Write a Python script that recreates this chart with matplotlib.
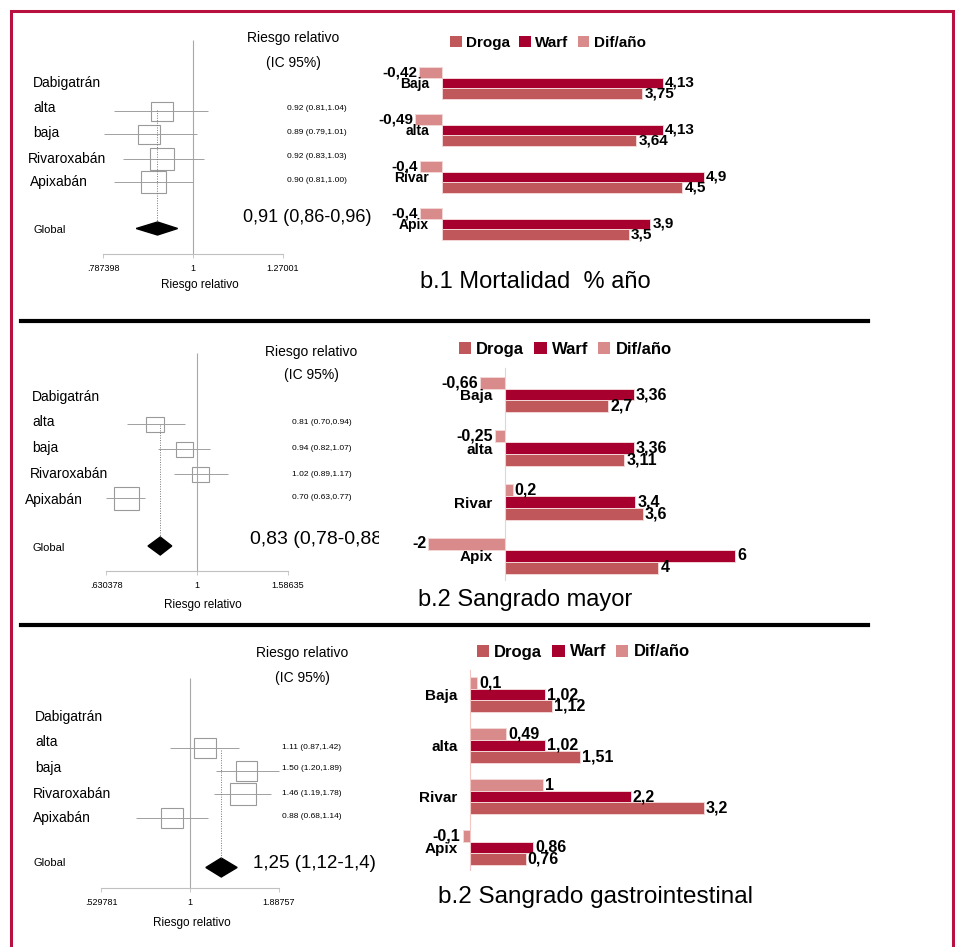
import numpy as np
import matplotlib
matplotlib.use("Agg")
import matplotlib.pyplot as plt
from matplotlib.patches import Rectangle, Polygon, Patch
from matplotlib.lines import Line2D
from matplotlib.ticker import NullLocator
from matplotlib.transforms import Bbox, TransformedBbox

plt.rcParams['font.family'] = ['Liberation Sans', 'DejaVu Sans']

W, H = 955, 947

# ---- forest plot data (riesgo relativo, IC 95%)
rr_names = ['alta', 'baja', 'Rivaroxabán', 'Apixabán']

mort_rr = [0.92, 0.89, 0.92, 0.90]
mort_lo = [0.81, 0.79, 0.83, 0.81]
mort_hi = [1.04, 1.01, 1.03, 1.00]
mort_global = [0.91, 0.86, 0.96]
mort_ticks = [0.787398, 1, 1.27001]
mort_ticklabels = ['.787398', '1', '1.27001']
mort_big = '0,91 (0,86-0,96)'

mayor_rr = [0.81, 0.94, 1.02, 0.70]
mayor_lo = [0.70, 0.82, 0.89, 0.63]
mayor_hi = [0.94, 1.07, 1.17, 0.77]
mayor_global = [0.83, 0.78, 0.88]
mayor_ticks = [0.630378, 1, 1.58635]
mayor_ticklabels = ['.630378', '1', '1.58635']
mayor_big = '0,83 (0,78-0,88)'

gi_rr = [1.11, 1.50, 1.46, 0.88]
gi_lo = [0.87, 1.20, 1.19, 0.68]
gi_hi = [1.42, 1.89, 1.78, 1.14]
gi_global = [1.25, 1.12, 1.4]
gi_ticks = [0.529781, 1, 1.88757]
gi_ticklabels = ['.529781', '1', '1.88757']
gi_big = '1,25 (1,12-1,4)'

# ---- bar data (% año)
bar_cats = ['Baja', 'alta', 'Rivar', 'Apix']
mort_droga = [3.75, 3.64, 4.5, 3.5]
mort_warf = [4.13, 4.13, 4.9, 3.9]
mort_dif = [-0.42, -0.49, -0.4, -0.4]

mayor_droga = [2.7, 3.11, 3.6, 4]
mayor_warf = [3.36, 3.36, 3.4, 6]
mayor_dif = [-0.66, -0.25, 0.2, -2]

gi_droga = [1.12, 1.51, 3.2, 0.76]
gi_warf = [1.02, 1.02, 2.2, 0.86]
gi_dif = [0.1, 0.49, 1, -0.1]

c_droga = '#C0575B'
c_warf = '#A8002E'
c_dif = '#D98A8A'
c_frame = '#B8103F'

fig = plt.figure(figsize=(W / 100, H / 100), dpi=100)


def rect(x0, y0, x1, y1):
    return [x0 / W, 1 - y1 / H, (x1 - x0) / W, (y1 - y0) / H]


def ftext(x, y, s, **kw):
    return fig.text(x / W, 1 - y / H, s, **kw)


def forest(lay, rr, lo, hi, glob, ticks, ticklabels, big, boxes):
    p_one, p_hi = lay['tick_px'][1], lay['tick_px'][2]
    k = (p_hi - p_one) / np.log(ticks[2])
    x0, x1 = 20, 382
    ax = fig.add_axes(rect(x0, lay['top'], x1, lay['bottom']))
    ax.set_xscale('log')
    ax.set_xlim(np.exp((x0 - p_one) / k), np.exp((x1 - p_one) / k))
    ax.set_ylim(lay['bottom'], lay['top'])
    ax.patch.set_visible(False)

    ax.vlines(1, lay['vtop'], lay['axis'], color='#a8a8a8', lw=0.8)
    ax.hlines(lay['rows'], lo, hi, color='#a0a0a0', lw=0.7)
    for e, y, (bw, bh) in zip(rr, lay['rows'], boxes):
        hw = bw / 2 / k
        ax.add_patch(Rectangle((e * np.exp(-hw), y - bh / 2),
                               e * np.exp(hw) - e * np.exp(-hw), bh,
                               fill=False, ec='#9a9a9a', lw=0.8))
    g, glo, ghi = glob
    gy, dh = lay['glob_y'], lay['dh']
    ax.add_patch(Polygon([[glo, gy], [g, gy - dh], [ghi, gy], [g, gy + dh]],
                         closed=True, color='black'))
    ax.vlines(g, lay['dot_top'], gy - dh, color='#777777', lw=0.7,
              linestyles=(0, (1, 1.5)))

    for s in ['top', 'right', 'left']:
        ax.spines[s].set_visible(False)
    ax.spines['bottom'].set_position(('data', lay['axis']))
    ax.spines['bottom'].set_bounds(ticks[0], ticks[2])
    ax.spines['bottom'].set_color('#c0c0c0')
    ax.spines['bottom'].set_linewidth(0.8)
    ax.set_xticks(ticks)
    ax.set_xticklabels(ticklabels, fontsize=6.5)
    ax.xaxis.set_minor_locator(NullLocator())
    ax.tick_params(axis='x', length=3, width=0.6, color='#c0c0c0', pad=4)
    ax.set_yticks([])

    # texts
    ftext(lay['dab'][0], lay['dab'][1], 'Dabigatrán', fontsize=10, va='center')
    for name, x, y in zip(rr_names, lay['lab_x'], lay['lab_y']):
        ftext(x, y, name, fontsize=10, va='center')
    ftext(lay['glob_lab'][0], lay['glob_lab'][1], 'Global', fontsize=8, va='center')
    for e, l, h, y in zip(rr, lo, hi, lay['val_y']):
        ftext(lay['val_x'], y, f"{e:.2f} ({l:.2f},{h:.2f})", fontsize=6, va='center')
    hx, hy1, hy2 = lay['head']
    ftext(hx, hy1, 'Riesgo relativo', fontsize=10, ha='center', va='center')
    ftext(hx, hy2, '(IC 95%)', fontsize=10, ha='center', va='center')
    t = ftext(lay['big'][0], lay['big'][1], big, fontsize=lay['big_fs'], va='center')
    t.set_clip_box(TransformedBbox(Bbox([[0, 0], [379 / W, 1]]), fig.transFigure))
    t.set_clip_on(True)
    ftext(lay['xlab'][0], lay['xlab'][1], 'Riesgo relativo', fontsize=8.5,
          ha='center', va='center')
    return ax


def fmt(v):
    return f"{v:g}".replace('.', ',')


def bars(lay, droga, warf, dif, tick_fs, lab_fs, leg_fs):
    x0, y0, x1, y1 = lay['rect']
    zero, ppu, c0, sp = lay['zero'], lay['ppu'], lay['c0'], lay['sp']
    ax = fig.add_axes(rect(x0, y0, x1, y1))
    ax.set_xlim((x0 - zero) / ppu, (x1 - zero) / ppu)
    ax.set_ylim((y1 - c0) / sp, (y0 - c0) / sp)
    ax.patch.set_visible(False)
    # spine first: moving it resets the tick labels
    for s in ['top', 'right', 'bottom']:
        ax.spines[s].set_visible(False)
    ax.spines['left'].set_position(('data', 0))
    if lay['spine'] is None:
        ax.spines['left'].set_visible(False)
    else:
        ax.spines['left'].set_color(lay['spine'])
        ax.spines['left'].set_linewidth(0.8)

    pos = np.arange(len(bar_cats))
    h = 0.223
    groups = [(pos - h, dif, c_dif), (pos, warf, c_warf), (pos + h, droga, c_droga)]
    for yy, vals, col in groups:
        ax.barh(yy, vals, h, color=col, edgecolor='#f3d6d6', linewidth=0.7)
        for y, v in zip(yy, vals):
            ax.annotate(fmt(v), (v, y), xytext=(1.5 if v >= 0 else -1.5, 0),
                        textcoords='offset points',
                        ha='left' if v >= 0 else 'right', va='center',
                        fontsize=lab_fs, fontweight='bold')
    ax.set_yticks(pos)
    ax.set_yticklabels(bar_cats, fontweight='bold', fontsize=tick_fs)
    ax.tick_params(axis='y', length=0, pad=9)
    ax.set_xticks([])
    handles = [Patch(fc=c_droga), Patch(fc=c_warf), Patch(fc=c_dif)]
    ax.legend(handles, ['Droga', 'Warf', 'Dif/año'], ncol=3, loc='center',
              bbox_to_anchor=(lay['leg'][0] / W, 1 - lay['leg'][1] / H),
              bbox_transform=fig.transFigure, frameon=False,
              prop={'weight': 'bold', 'size': leg_fs}, handlelength=0.75,
              handleheight=0.75, handletextpad=0.3, columnspacing=0.6,
              borderpad=0)
    return ax


L1 = dict(top=15, bottom=318, tick_px=(103, 193, 283), rows=[111, 134, 159, 182],
          glob_y=228.5, dh=6.5, axis=254, vtop=40, dot_top=110,
          lab_x=[33, 33, 28, 30], lab_y=[108, 133, 159, 182], dab=(33, 83),
          glob_lab=(33, 230), val_x=287, val_y=[109, 133, 157, 180],
          head=(293, 38, 63), big=(243, 217), big_fs=13, xlab=(200, 285))
L2 = dict(top=325, bottom=622, tick_px=(105, 197, 288), rows=[424, 449, 474, 498],
          glob_y=546, dh=9, axis=571, vtop=353, dot_top=425,
          lab_x=[32, 32, 30, 25], lab_y=[422, 448, 474, 500], dab=(32, 397),
          glob_lab=(32, 548), val_x=292, val_y=[422, 448, 474, 497],
          head=(311, 352, 375), big=(250, 540), big_fs=14, xlab=(203, 605))
L3 = dict(top=630, bottom=940, tick_px=(102, 190, 279), rows=[748, 771, 794, 818],
          glob_y=867.5, dh=9.5, axis=888, vtop=678, dot_top=750,
          lab_x=[35, 35, 33, 33], lab_y=[742, 768, 794, 818], dab=(35, 717),
          glob_lab=(33, 863), val_x=282, val_y=[747, 768, 793, 816],
          head=(302, 653, 678), big=(253, 863), big_fs=13.5, xlab=(192, 923))

forest(L1, mort_rr, mort_lo, mort_hi, mort_global, mort_ticks, mort_ticklabels,
       mort_big, [(22, 19), (22, 19), (24, 22), (25, 22)])
forest(L2, mayor_rr, mayor_lo, mayor_hi, mayor_global, mayor_ticks, mayor_ticklabels,
       mayor_big, [(18, 15), (17, 15), (17, 15), (25, 23)])
forest(L3, gi_rr, gi_lo, gi_hi, gi_global, gi_ticks, gi_ticklabels,
       gi_big, [(22, 20), (21, 20), (26, 22), (22, 20)])

B1 = dict(rect=(385, 58, 760, 250), zero=441.7, ppu=53.5, c0=83, sp=47,
          spine=None, leg=(548, 43))
B2 = dict(rect=(400, 368, 760, 580), zero=505, ppu=38.3, c0=394.5, sp=53.8,
          spine='#d9d9d9', leg=(565, 349))
B3 = dict(rect=(400, 670, 760, 870), zero=470, ppu=73.1, c0=694.5, sp=51,
          spine='#f4c7c7', leg=(583, 652))

bars(B1, mort_droga, mort_warf, mort_dif, 10, 11, 11)
bars(B2, mayor_droga, mayor_warf, mayor_dif, 11, 11.5, 12)
bars(B3, gi_droga, gi_warf, gi_dif, 11, 11.5, 12)

ftext(420, 282, 'b.1 Mortalidad  % año', fontsize=17, va='center')
ftext(418, 600, 'b.2 Sangrado mayor', fontsize=17, va='center')
ftext(438, 897, 'b.2 Sangrado gastrointestinal', fontsize=17.5, va='center')

# frame and separators
fig.add_artist(Rectangle((10.5 / W, -0.05), (953 - 10.5) / W, 1.05 - 11 / H,
                         transform=fig.transFigure, fill=False, ec=c_frame, lw=2.2))
for yy in [320.5, 625]:
    fig.add_artist(Line2D([21 / W, 868 / W], [1 - yy / H, 1 - yy / H],
                          transform=fig.transFigure, color='black', lw=3))

fig.savefig('out.png', dpi=100)
